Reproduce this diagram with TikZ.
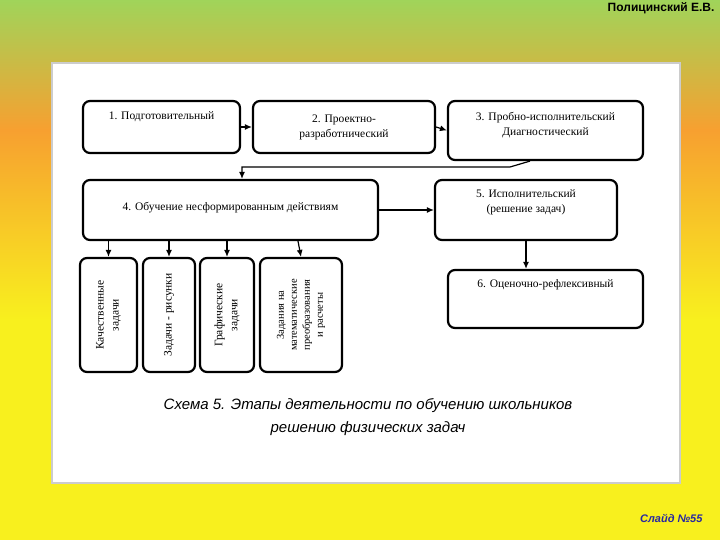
\documentclass[tikz,border=0pt]{standalone}
\usepackage{fontspec}
\setmainfont{Liberation Serif}
\newfontfamily\sans{Liberation Sans}
\usetikzlibrary{arrows.meta}
\definecolor{bggreen}{RGB}{160,212,90}
\definecolor{bgorange}{RGB}{247,160,48}
\definecolor{bgyellow}{RGB}{248,240,30}
\definecolor{slidebl}{RGB}{40,40,160}
\begin{document}
\begin{tikzpicture}[x=1pt,y=-1pt,
 box/.style={draw,line width=2.2pt,rounded corners=7pt,font=\fontsize{11.5}{15}\selectfont,inner sep=2pt},
 arr/.style={-{Latex[length=7pt,width=6pt]},line width=1.2pt}]
\useasboundingbox (0,0) rectangle (720,540);
\shade[top color=bggreen,bottom color=bgorange] (0,0) rectangle (720,130);
\shade[top color=bgorange,bottom color=bgyellow] (0,130) rectangle (720,320);
\fill[bgyellow] (0,319) rectangle (720,540);
\fill[white,draw=gray!40,line width=2pt] (52,63) rectangle (680,483);
\node[font=\sans\bfseries\fontsize{12}{14}\selectfont,anchor=east] (auth) at (718,8) {Полицинский Е.В.};
\node[font=\sans\bfseries\itshape\fontsize{11}{13}\selectfont,text=slidebl,anchor=east] (sl) at (706,518) {Слайд №55};
% boxes
\node[box,minimum width=157pt,minimum height=52pt,text depth=22pt] (b1) at (161.5,127) {1. Подготовительный};
\node[box,minimum width=182pt,minimum height=52pt,align=center] (b2) at (344,127) {2. Проектно-\\разработнический};
\node[box,minimum width=195pt,minimum height=59pt,align=center,text depth=14pt] (b3) at (545.5,130.5) {3. Пробно-исполнительский\\Диагностический};
\node[box,minimum width=295pt,minimum height=60pt,text depth=8pt] (b4) at (230.5,210) {4. Обучение несформированным действиям};
\node[box,minimum width=182pt,minimum height=60pt,align=center,text depth=18pt] (b5) at (526,210) {5. Исполнительский\\(решение задач)};
\node[box,minimum width=195pt,minimum height=58pt,text depth=30pt] (b6) at (545.5,299) {6. Оценочно-рефлексивный};
\node[box,minimum width=114pt,minimum height=57pt,rotate=90,align=center] (v1) at (108.5,315) {Качественные\\задачи};
\node[box,minimum width=114pt,minimum height=52pt,rotate=90,align=center] (v2) at (169,315) {Задачи - рисунки};
\node[box,minimum width=114pt,minimum height=54pt,rotate=90,align=center] (v3) at (227,315) {Графические\\задачи};
\node[box,minimum width=114pt,minimum height=82pt,rotate=90,align=center,font=\fontsize{10.5}{13}\selectfont] (v4) at (301,315) {Задания на\\математические\\преобразования\\и расчеты};
\node[font=\sans\itshape\fontsize{15}{23}\selectfont,align=center] (cap) at (368,417) {Схема 5. Этапы деятельности по обучению школьников\\решению физических задач};
% connectors
\draw[arr] (b1.east) -- (b2.west);
\draw[arr] (b2.east) -- (b3.west);
\coordinate (c1) at (510,167);
\coordinate (c2) at (242,167);
\draw[arr] (b3.south -| 530,0) -- (c1) -- (c2) -- (c2 |- b4.north);
\draw[arr] (b4.east) -- (b5.west);
\draw[arr] (b5.south) -- (b5.south |- b6.north);
\draw[arr] (b4.south -| v1) -- (v1.east);
\draw[arr] (b4.south -| v2) -- (v2.east);
\draw[arr] (b4.south -| v3) -- (v3.east);
\draw[arr] (b4.south -| 298,0) -- (v4.east);
\end{tikzpicture}
\end{document}
